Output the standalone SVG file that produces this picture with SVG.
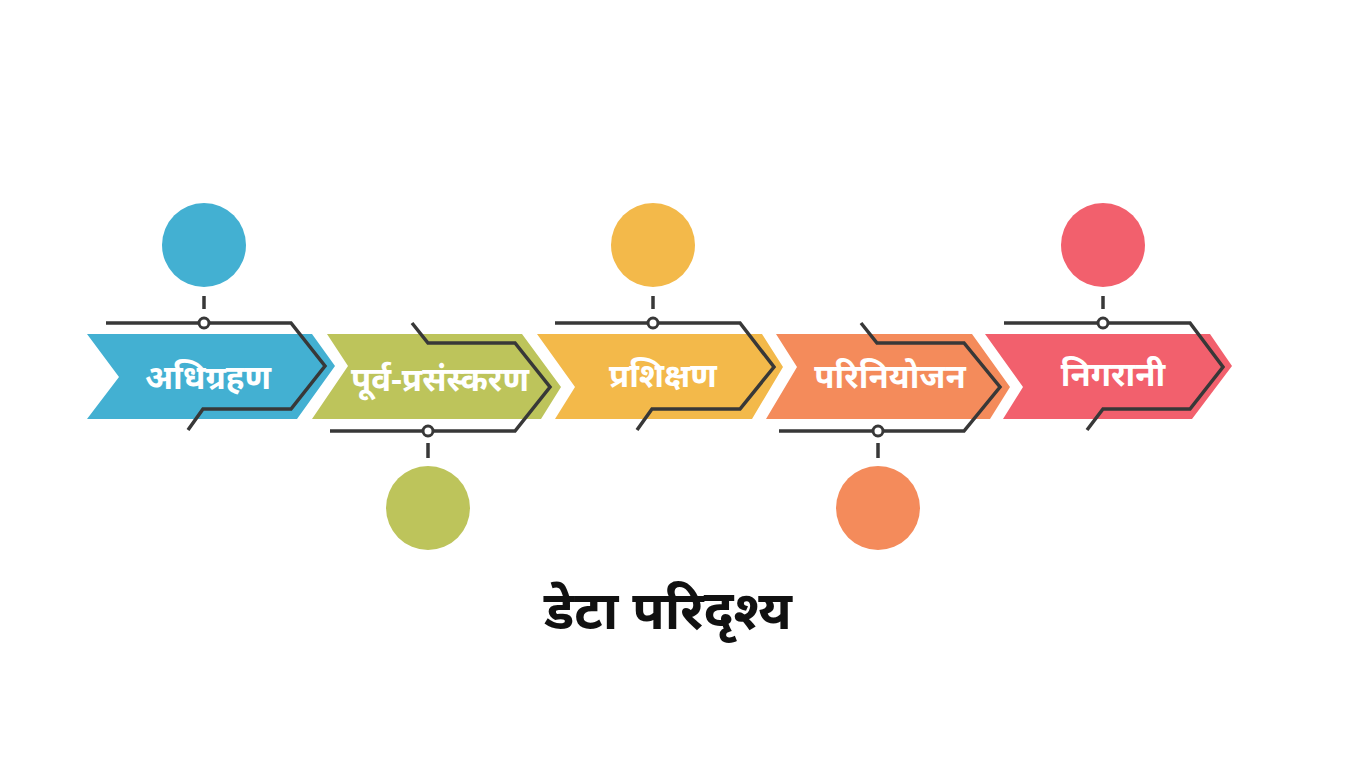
<svg xmlns="http://www.w3.org/2000/svg" width="1365" height="768" viewBox="0 0 1365 768">
<style>
.line{fill:none;stroke:#383838;stroke-width:3.5;stroke-linejoin:miter;stroke-linecap:butt}
.node{fill:#ffffff;stroke:#383838;stroke-width:3}
.lbl{font-family:"Noto Sans","Noto Sans Devanagari",sans-serif;font-weight:bold;font-size:33px;fill:#ffffff;text-anchor:middle}
.title{font-family:"Noto Sans","Noto Sans Devanagari",sans-serif;font-weight:bold;font-size:53px;fill:#111111;text-anchor:middle}
</style>
<rect width="1365" height="768" fill="#ffffff"/>
<g id="step1">
<polygon points="87,334 312,334 335,366 297,419 87,419 119,377" fill="#43B0D2"/>
<circle cx="204" cy="245" r="42" fill="#43B0D2"/>
<text class="lbl" x="208" y="389">अधिग्रहण</text>
</g>
<g id="step2">
<polygon points="327,334 522,334 561,387 541,419 312,419 348,366" fill="#BDC45B"/>
<circle cx="428" cy="508" r="42" fill="#BDC45B"/>
<text class="lbl" x="440" y="391">पूर्व-प्रसंस्करण</text>
</g>
<g id="step3">
<polygon points="537,334 762,334 783,367 752,419 555,419 575,387" fill="#F3B94A"/>
<circle cx="653" cy="245" r="42" fill="#F3B94A"/>
<text class="lbl" x="663" y="387">प्रशिक्षण</text>
</g>
<g id="step4">
<polygon points="776,334 972,334 1010,387 990,419 766,419 797,367" fill="#F48B5B"/>
<circle cx="878" cy="508" r="42" fill="#F48B5B"/>
<text class="lbl" x="890" y="388">परिनियोजन</text>
</g>
<g id="step5">
<polygon points="985,334 1210,334 1232,366 1192,419 1003,419 1023,387" fill="#F2606D"/>
<circle cx="1103" cy="245" r="42" fill="#F2606D"/>
<text class="lbl" x="1113" y="386">निगरानी</text>
</g>
<g id="connectors">
<path class="line" d="M106,323 H291 L325,366 L291,409 H203 L188,430"/>
<path class="line" d="M412,323 L428,343 H515 L550,387 L515,431 H330"/>
<path class="line" d="M555,323 H740 L774,367 L740,409 H652 L637,430"/>
<path class="line" d="M861,323 L877,343 H964 L1000,387 L964,431 H779"/>
<path class="line" d="M1004,323 H1190 L1223,367 L1190,409 H1103 L1087,430"/>
<line class="line" x1="204" y1="296" x2="204" y2="309"/>
<line class="line" x1="428" y1="443" x2="428" y2="458"/>
<line class="line" x1="653" y1="296" x2="653" y2="309"/>
<line class="line" x1="878" y1="443" x2="878" y2="458"/>
<line class="line" x1="1103" y1="296" x2="1103" y2="309"/>
<circle class="node" cx="204" cy="323" r="5"/>
<circle class="node" cx="428" cy="431" r="5"/>
<circle class="node" cx="653" cy="323" r="5"/>
<circle class="node" cx="878" cy="431" r="5"/>
<circle class="node" cx="1103" cy="323" r="5"/>
</g>
<g id="title">
<text class="title" x="668" y="629">डेटा परिदृश्य</text>
</g>
</svg>
